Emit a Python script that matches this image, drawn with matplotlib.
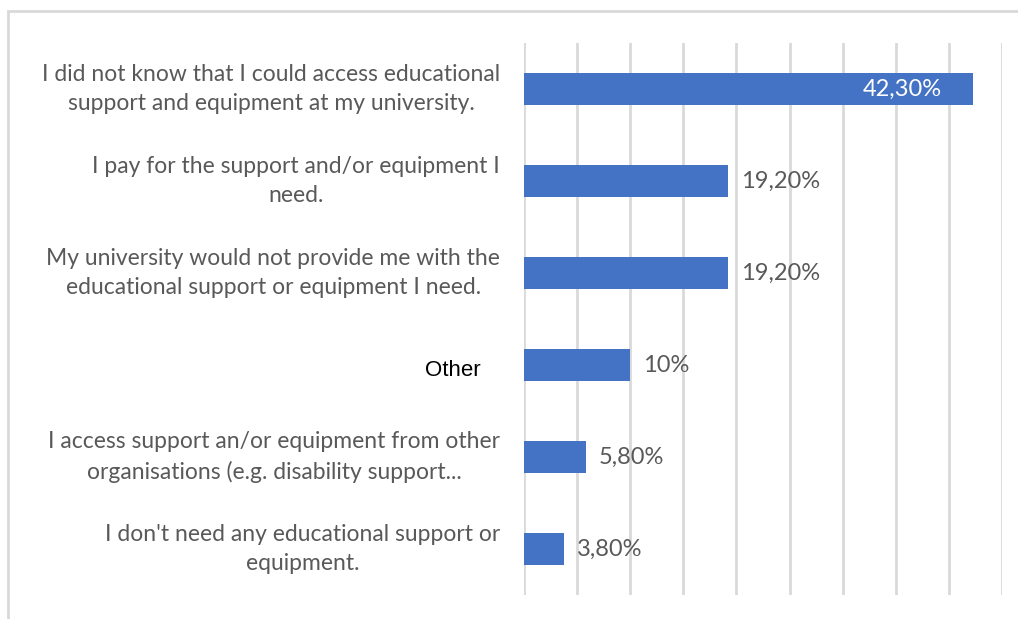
import matplotlib
matplotlib.use("Agg")
import matplotlib.pyplot as plt
from matplotlib.patches import Rectangle
from matplotlib.transforms import blended_transform_factory

categories = [
    "I did not know that I could access educational\nsupport and equipment at my university.",
    "I pay for the support and/or equipment I\nneed.",
    "My university would not provide me with the\neducational support or equipment I need.",
    "Other",
    "I access support an/or equipment from other\norganisations (e.g. disability support...",
    "I don't need any educational support or\nequipment.",
]
values = [42.3, 19.2, 19.2, 10.0, 5.8, 3.8]
value_labels = ["42,30%", "19,20%", "19,20%", "10%", "5,80%", "3,80%"]

W, H = 1018, 619
fig = plt.figure(figsize=(W / 100, H / 100), dpi=100)
fig.patch.set_facecolor("white")

# chart frame (cropped on right/bottom)
fig.add_artist(Rectangle((8 / W, -0.01), 1.02, (H - 11) / H + 0.01, transform=fig.transFigure,
                         fill=False, edgecolor="#d9d9d9", linewidth=2))

left, right, top, bottom = 524, 1002, 43, 595
ax = fig.add_axes([left / W, 1 - bottom / H, (right - left) / W, (bottom - top) / H])
ax.set_xlim(0, 45)
ax.set_ylim(len(categories) - 0.5, -0.5)

ypos = list(range(len(categories)))
ax.barh(ypos, values, height=0.35, color="#4472c4", zorder=3)

ax.set_xticks(range(0, 46, 5))
ax.xaxis.grid(True, color="#d9d9d9", linewidth=2, zorder=0)
ax.tick_params(axis="x", length=0, labelbottom=False)
ax.set_yticks(ypos)
ax.tick_params(axis="y", length=0, labelleft=False)
for s in ax.spines.values():
    s.set_visible(False)

# category labels (x in figure coords, y in data coords)
trans = blended_transform_factory(fig.transFigure, ax.transData)
for y, cat in zip(ypos, categories):
    if cat == "Other":
        ax.text(481 / W, y + 0.06, cat, transform=trans, ha="right", va="center",
                family="Liberation Sans", color="black", fontsize=16)
    else:
        ax.text(500 / W, y, cat, transform=trans, ha="right", va="center",
                multialignment="center", linespacing=1.45,
                family="Lato", color="#595959", fontsize=16.5)

for y, v, t in zip(ypos, values, value_labels):
    if v > 30:
        ax.text(v - 3.0, y, t, ha="right", va="center", color="white",
                fontsize=17, family="Lato", zorder=4)
    else:
        ax.text(v + 1.2, y, t, ha="left", va="center", color="#595959",
                fontsize=17, family="Lato", zorder=4)

fig.savefig("out.png", dpi=100)
